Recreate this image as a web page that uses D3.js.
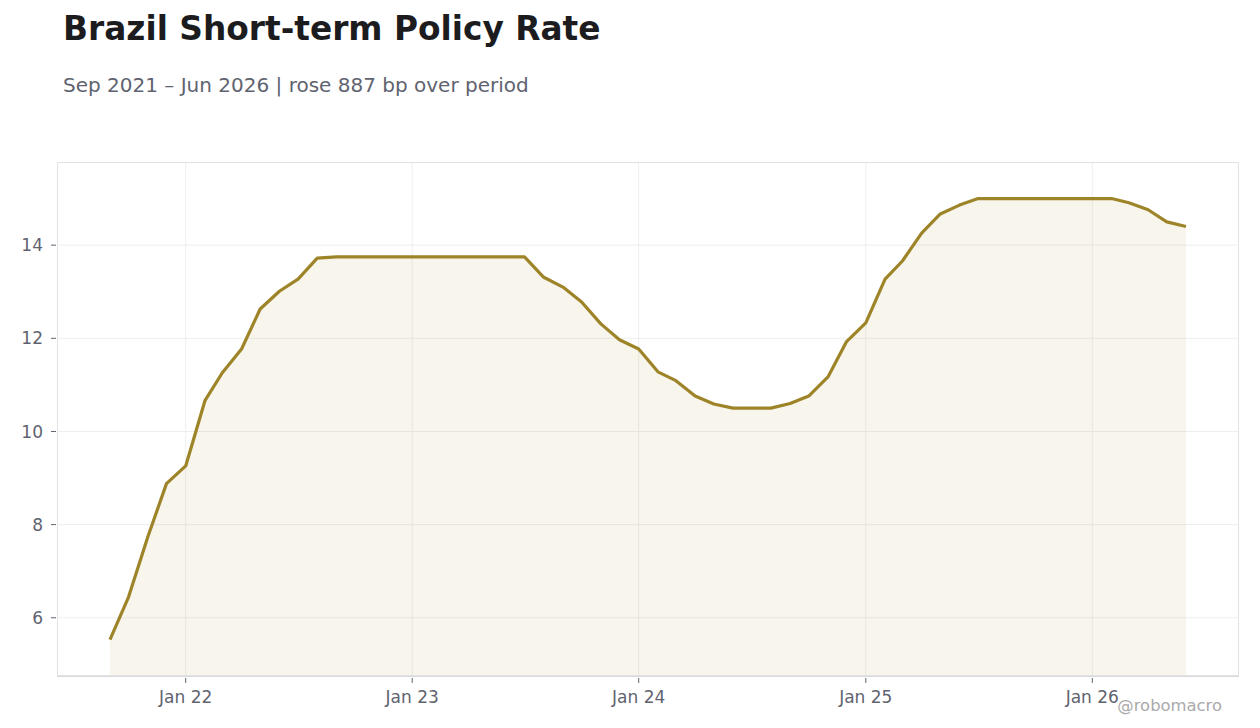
<!doctype html>
<html>
<head>
<meta charset="utf-8"/>
<title>Brazil Short-term Policy Rate</title>
<script src="https://d3js.org/d3.v7.min.js"></script>
<style>
  body { margin: 0; background: #fff; }
  svg text { font-family: "DejaVu Sans", sans-serif; }
</style>
</head>
<body>
<script type="text/javascript">
// monthly values, Sep 2021 .. Jun 2026
var startMonth = "2021-09";
var rates = [
  5.53, 6.45, 7.74, 8.88,
  9.26, 10.66, 11.26, 11.77, 12.63, 13.01, 13.27, 13.72, 13.75, 13.75, 13.75, 13.75,
  13.75, 13.75, 13.75, 13.75, 13.75, 13.75, 13.75, 13.31, 13.10, 12.78, 12.31, 11.97,
  11.77, 11.28, 11.09, 10.76, 10.59, 10.50, 10.50, 10.50, 10.60, 10.76, 11.17, 11.93,
  12.33, 13.27, 13.66, 14.26, 14.67, 14.86, 15.00, 15.00, 15.00, 15.00, 15.00, 15.00,
  15.00, 15.00, 14.91, 14.76, 14.50, 14.40
];
var yTicks = [6, 8, 10, 12, 14];
var xTickDates = ["2022-01", "2023-01", "2024-01", "2025-01", "2026-01"];
var xTickLabels = ["Jan 22", "Jan 23", "Jan 24", "Jan 25", "Jan 26"];

var parseMonth = d3.timeParse("%Y-%m");
var t0 = parseMonth(startMonth);
var data = rates.map(function(v, i) {
  return { date: d3.timeMonth.offset(t0, i), value: v };
});

var W = 1260, H = 728;
var plotL = 57, plotR = 1239, plotT = 162, plotB = 676;
var pad = 53;

var svg = d3.select("body").append("svg")
  .attr("width", W)
  .attr("height", H);

var x = d3.scaleTime()
  .domain(d3.extent(data, function(d) { return d.date; }))
  .range([plotL + pad, plotR - pad]);

var y = d3.scaleLinear()
  .domain([4.75, 15.785])
  .range([plotB, plotT]);

// grid
svg.append("g").selectAll("line")
  .data(yTicks).enter().append("line")
  .attr("x1", plotL).attr("x2", plotR)
  .attr("y1", function(d) { return y(d); })
  .attr("y2", function(d) { return y(d); })
  .attr("stroke", "#eeeeee").attr("stroke-width", 1);

svg.append("g").selectAll("line")
  .data(xTickDates).enter().append("line")
  .attr("x1", function(d) { return x(parseMonth(d)); })
  .attr("x2", function(d) { return x(parseMonth(d)); })
  .attr("y1", plotT).attr("y2", plotB)
  .attr("stroke", "#eeeeee").attr("stroke-width", 1);

// area + line
var area = d3.area()
  .x(function(d) { return x(d.date); })
  .y0(plotB)
  .y1(function(d) { return y(d.value); });

var line = d3.line()
  .x(function(d) { return x(d.date); })
  .y(function(d) { return y(d.value); });

svg.append("path")
  .datum(data)
  .attr("d", area)
  .attr("fill", "rgba(180,140,60,0.09)");

svg.append("path")
  .datum(data)
  .attr("d", line)
  .attr("fill", "none")
  .attr("stroke", "#9e8428")
  .attr("stroke-width", 3.2)
  .attr("stroke-linejoin", "round");

// frame
svg.append("rect")
  .attr("x", plotL + 0.5).attr("y", plotT + 0.5)
  .attr("width", plotR - plotL - 1).attr("height", plotB - plotT - 1)
  .attr("fill", "none")
  .attr("stroke", "#e2e2e2");
svg.append("line")
  .attr("x1", plotL).attr("x2", plotR)
  .attr("y1", plotB + 0.5).attr("y2", plotB + 0.5)
  .attr("stroke", "#d8dae0");

// x axis ticks
var xg = svg.append("g");
xg.selectAll("line")
  .data(xTickDates).enter().append("line")
  .attr("x1", function(d) { return x(parseMonth(d)); })
  .attr("x2", function(d) { return x(parseMonth(d)); })
  .attr("y1", plotB + 2).attr("y2", plotB + 7)
  .attr("stroke", "#5f6370");
xg.selectAll("text")
  .data(xTickDates).enter().append("text")
  .attr("x", function(d) { return x(parseMonth(d)); })
  .attr("y", 703)
  .attr("text-anchor", "middle")
  .attr("font-size", 17)
  .attr("fill", "#5f6370")
  .text(function(d, i) { return xTickLabels[i]; });

// y axis ticks
var yg = svg.append("g");
yg.selectAll("line")
  .data(yTicks).enter().append("line")
  .attr("x1", plotL - 6).attr("x2", plotL - 1)
  .attr("y1", function(d) { return y(d); })
  .attr("y2", function(d) { return y(d); })
  .attr("stroke", "#5f6370");
yg.selectAll("text")
  .data(yTicks).enter().append("text")
  .attr("x", 43)
  .attr("y", function(d) { return y(d); })
  .attr("dy", "0.36em")
  .attr("text-anchor", "end")
  .attr("font-size", 17)
  .attr("fill", "#5f6370")
  .text(function(d) { return d; });

// titles
svg.append("text")
  .attr("x", 63).attr("y", 40)
  .attr("font-size", 32.8).attr("font-weight", "bold")
  .attr("fill", "#1c1c1f")
  .text("Brazil Short-term Policy Rate");

svg.append("text")
  .attr("x", 63).attr("y", 92)
  .attr("font-size", 20)
  .attr("fill", "#5f6370")
  .text("Sep 2021 \u2013 Jun 2026 | rose 887 bp over period");

svg.append("text")
  .attr("x", 1222).attr("y", 711)
  .attr("text-anchor", "end")
  .attr("font-size", 16.4)
  .attr("fill", "#aaaaaa")
  .text("@robomacro");
</script>
</body>
</html>
